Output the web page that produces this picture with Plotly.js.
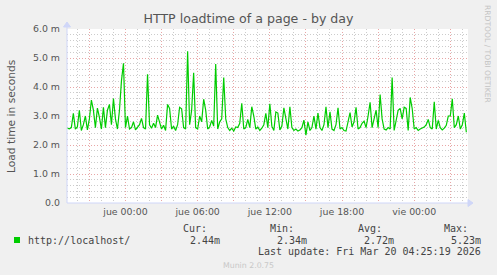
<!DOCTYPE html>
<html>
<head>
<meta charset="utf-8">
<script src="https://cdn.plot.ly/plotly-3.0.1.min.js"></script>
<style>html,body{margin:0;padding:0;background:#F0F0F0;}#chart{width:497px;height:275px;}</style>
</head>
<body>
<div id="chart"></div>
<script>
// ---- data (values in milliseconds-unit "m", 10-minute samples) ----
const seriesName = "http://localhost/";
const loadtime = [
2.58,2.56,2.60,3.09,2.55,2.62,3.20,2.50,2.70,3.00,
2.52,2.90,3.55,3.20,2.60,3.27,2.95,2.55,3.30,2.60,
3.20,3.40,2.70,3.60,2.90,2.55,3.20,4.22,4.82,2.60,
3.00,2.55,2.60,2.80,2.52,2.60,2.70,2.92,2.60,2.55,
4.44,2.70,2.58,2.75,2.60,3.03,2.80,2.55,2.68,2.50,
3.40,3.26,2.55,2.65,2.50,2.70,3.30,3.25,2.60,2.55,
5.23,2.70,3.20,4.49,2.60,2.55,3.00,2.80,3.58,3.20,
2.55,2.62,2.85,2.65,4.79,2.55,2.80,2.90,4.33,2.90,
2.60,2.50,2.58,2.48,2.62,2.60,2.75,3.44,2.55,2.60,
2.88,2.60,3.32,3.00,2.55,2.62,2.50,2.58,2.70,3.09,
2.60,3.42,2.65,2.50,3.14,3.10,2.52,2.65,3.28,2.85,
2.55,3.32,2.60,2.50,2.55,2.48,2.52,2.60,2.86,2.34,
2.80,2.50,2.60,3.00,2.55,3.10,2.60,2.50,2.70,3.32,
2.60,3.14,2.55,2.50,2.70,3.28,2.55,2.60,2.50,2.48,
2.75,3.12,2.62,2.80,3.30,2.55,2.60,2.75,2.82,2.60,
3.00,3.47,2.60,2.90,3.20,2.60,3.74,2.90,2.55,2.52,
2.60,2.55,4.33,2.50,2.90,3.20,3.26,2.90,3.30,3.26,
2.50,3.64,3.26,2.55,2.60,2.50,2.55,2.58,2.62,2.70,
2.88,2.60,2.55,3.49,2.55,2.85,2.60,2.52,2.58,2.68,
3.00,3.00,3.59,2.60,2.70,3.00,2.55,2.70,3.10,2.44
];
const sampleStart = Date.UTC(2026, 2, 18, 19, 10, 0);
const sampleStepMinutes = 10;
const axisStart = "2026-03-18 19:08:20";
const axisEnd = "2026-03-20 04:28:20";

const xTickVals = ["2026-03-18 21:00","2026-03-19 00:00","2026-03-19 03:00","2026-03-19 06:00",
  "2026-03-19 09:00","2026-03-19 12:00","2026-03-19 15:00","2026-03-19 18:00",
  "2026-03-19 21:00","2026-03-20 00:00","2026-03-20 03:00"];
const xTickText = ["","jue 00:00","","jue 06:00","","jue 12:00","","jue 18:00","","vie 00:00",""];
const yTickVals = [0,1,2,3,4,5,6];
const yTickText = ["0.0","1.0 m","2.0 m","3.0 m","4.0 m","5.0 m","6.0 m"];

const statLabels = ["Cur:","Min:","Avg:","Max:"];
const statValues = ["2.44m","2.34m","2.72m","5.23m"];
const lastUpdate = "Last update: Fri Mar 20 04:25:19 2026";

function fmt(ms){ return new Date(ms).toISOString().replace("T"," ").slice(0,19); }
const times = loadtime.map((v,i) => fmt(sampleStart + i*sampleStepMinutes*60000));

// ---- layout helpers (pixel -> paper) ----
const W=497, H=275, PL=67, PR=468, PT=29, PB=203;
const px = x => (x-PL)/(PR-PL);
const py = y => (PB-y)/(PB-PT);

const trace = {
  x: times, y: loadtime, type: "scatter", mode: "lines",
  line: {color: "#00CC00", width: 1.2}, hoverinfo: "skip", showlegend: false
};

const tickFont = {family: "DejaVu Sans", size: 9.4, color: "#555"};
const monoFont = {family: "DejaVu Sans Mono", size: 10, color: "#444"};

const annotations = [
  {text: "Load time in seconds", x: px(11), y: py(116), xref: "paper", yref: "paper",
   textangle: -90, showarrow: false, xanchor: "center", yanchor: "middle",
   font: {family: "DejaVu Sans", size: 10.7, color: "#555"}},
  {text: "RRDTOOL / TOBI OETIKER", x: px(488), y: py(54), xref: "paper", yref: "paper",
   textangle: 90, showarrow: false, xanchor: "center", yanchor: "middle",
   font: {family: "DejaVu Sans", size: 7.6, color: "#C4C4C4"}},
  {text: seriesName, x: px(26), y: py(240), xref: "paper", yref: "paper", showarrow: false,
   xanchor: "left", yanchor: "middle", font: monoFont},
  {text: lastUpdate, x: px(483), y: py(251), xref: "paper", yref: "paper", showarrow: false,
   xanchor: "right", yanchor: "middle", font: monoFont},
  {text: "Munin 2.0.75", x: px(248), y: py(265), xref: "paper", yref: "paper", showarrow: false,
   xanchor: "center", yanchor: "middle", font: {family: "DejaVu Sans", size: 7.8, color: "#C8C8C8"}}
];
const statLabelRight = [209, 296, 384, 470];
const statValueRight = [222, 309, 396, 483];
statLabels.forEach((s,i) => {
  annotations.push({text: s, x: px(statLabelRight[i]), y: py(228), xref: "paper", yref: "paper",
    showarrow: false, xanchor: "right", yanchor: "middle", font: monoFont});
  annotations.push({text: statValues[i], x: px(statValueRight[i]), y: py(240), xref: "paper", yref: "paper",
    showarrow: false, xanchor: "right", yanchor: "middle", font: monoFont});
});

const axisCol = "#CFD6F8";
const shapes = [
  {type: "line", xref: "paper", yref: "paper", x0: 0, x1: px(470), y0: 0, y1: 0, line: {color: axisCol, width: 1}},
  {type: "line", xref: "paper", yref: "paper", x0: 0, x1: 0, y0: 0, y1: py(24), line: {color: axisCol, width: 1}},
  {type: "path", xref: "paper", yref: "paper", fillcolor: axisCol, line: {color: axisCol, width: 1},
   path: `M ${px(468)} ${py(199.5)} L ${px(473)} ${py(203)} L ${px(468)} ${py(206.5)} Z`},
  {type: "path", xref: "paper", yref: "paper", fillcolor: axisCol, line: {color: axisCol, width: 1},
   path: `M ${px(63.5)} ${py(27)} L ${px(67)} ${py(22)} L ${px(70.5)} ${py(27)} Z`},
  {type: "rect", xref: "paper", yref: "paper", x0: px(14), x1: px(20), y0: py(243), y1: py(237),
   fillcolor: "#00CC00", line: {width: 0}}
];

const layout = {
  width: W, height: H,
  margin: {l: PL, r: W-PR, t: PT, b: H-PB, pad: 0},
  paper_bgcolor: "#F0F0F0", plot_bgcolor: "#FFFFFF",
  title: {text: "HTTP loadtime of a page - by day", x: 0.5, xref: "container", xanchor: "center",
          y: 1-19/H, yref: "container", yanchor: "middle",
          font: {family: "DejaVu Sans", size: 12.6, color: "#555"}},
  xaxis: {
    type: "date", range: [axisStart, axisEnd], fixedrange: true,
    tickmode: "array", tickvals: xTickVals, ticktext: xTickText,
    showgrid: true, gridcolor: "#E8A6A6", griddash: "1px,2px", gridwidth: 1,
    minor: {dtick: 3600000, tick0: "2026-03-18 00:00", showgrid: true, gridcolor: "#CCCCCC", griddash: "1px,2px", gridwidth: 1},
    zeroline: false, showline: false, ticks: "", tickfont: tickFont, ticklabelstandoff: 2
  },
  yaxis: {
    range: [0, 6], fixedrange: true,
    tickmode: "array", tickvals: yTickVals, ticktext: yTickText,
    showgrid: true, gridcolor: "#E8A6A6", griddash: "1px,2px", gridwidth: 1,
    minor: {dtick: 0.2, tick0: 0, showgrid: true, gridcolor: "#CCCCCC", griddash: "1px,2px", gridwidth: 1},
    zeroline: false, showline: false, ticks: "", tickfont: tickFont, ticklabelstandoff: 6
  },
  annotations: annotations, shapes: shapes, showlegend: false
};

Plotly.newPlot("chart", [trace], layout, {staticPlot: true, displayModeBar: false});
</script>
</body>
</html>
